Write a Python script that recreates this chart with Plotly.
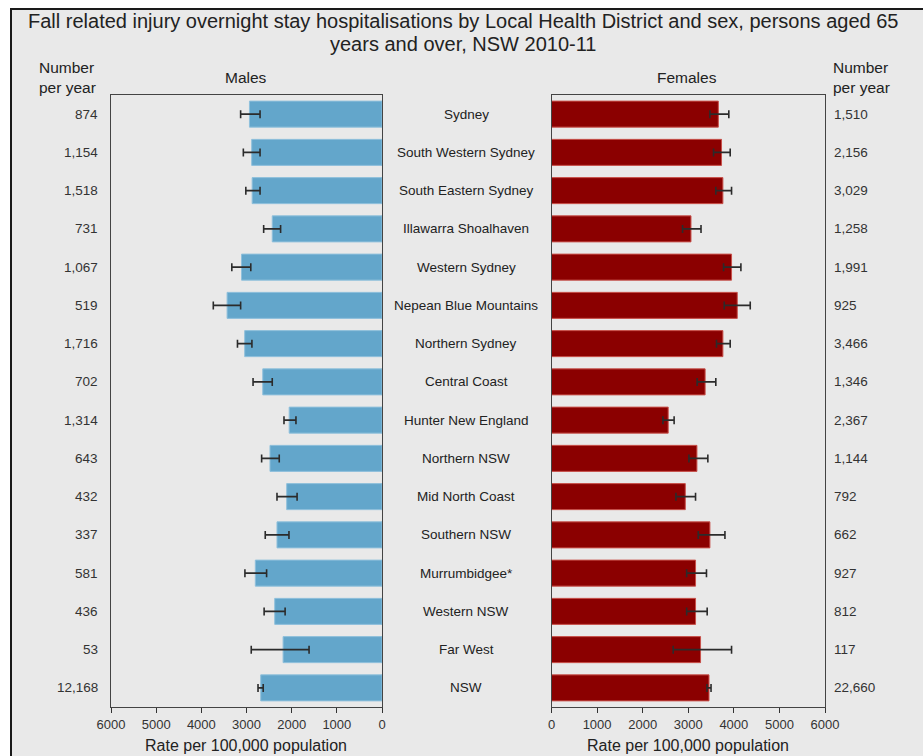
import plotly.graph_objects as go

W, H = 923, 756

districts = ["Sydney", "South Western Sydney", "South Eastern Sydney", "Illawarra Shoalhaven",
             "Western Sydney", "Nepean Blue Mountains", "Northern Sydney", "Central Coast",
             "Hunter New England", "Northern NSW", "Mid North Coast", "Southern NSW",
             "Murrumbidgee*", "Western NSW", "Far West", "NSW"]
male_number = ["874", "1,154", "1,518", "731", "1,067", "519", "1,716", "702",
               "1,314", "643", "432", "337", "581", "436", "53", "12,168"]
female_number = ["1,510", "2,156", "3,029", "1,258", "1,991", "925", "3,466", "1,346",
                 "2,367", "1,144", "792", "662", "927", "812", "117", "22,660"]
male_rate = [2935, 2885, 2875, 2430, 3110, 3430, 3040, 2640, 2055, 2480, 2110, 2325, 2805, 2375, 2190, 2685]
male_lo = [2700, 2700, 2700, 2245, 2905, 3130, 2880, 2430, 1905, 2275, 1880, 2060, 2555, 2145, 1615, 2630]
male_hi = [3130, 3070, 3015, 2620, 3325, 3735, 3200, 2855, 2170, 2665, 2325, 2585, 3035, 2610, 2895, 2745]
female_rate = [3660, 3730, 3760, 3060, 3950, 4075, 3760, 3370, 2560, 3190, 2935, 3475, 3160, 3160, 3270, 3455]
female_lo = [3475, 3555, 3605, 2875, 3775, 3790, 3620, 3195, 2445, 3015, 2730, 3220, 2965, 2965, 2670, 3410]
female_hi = [3890, 3920, 3950, 3280, 4155, 4360, 3920, 3605, 2690, 3430, 3160, 3805, 3400, 3415, 3950, 3500]
x_ticks = [0, 1000, 2000, 3000, 4000, 5000, 6000]
title_lines = ["Fall related injury overnight stay hospitalisations by Local Health District and sex, persons aged 65",
               "years and over, NSW 2010-11"]

FONT = "Liberation Sans, Arial, sans-serif"
MALE_COLOR = "#63a6cb"
FEMALE_COLOR = "#8b0000"


def px(x):
    return x / W


def py(y):
    return 1 - y / H


fig = go.Figure()

fig.add_trace(go.Bar(
    y=districts, x=male_rate, orientation="h", xaxis="x", yaxis="y",
    marker=dict(color=MALE_COLOR, line=dict(color="#8fc0dc", width=1)),
    width=0.68,
    error_x=dict(type="data", symmetric=False,
                 array=[h - r for h, r in zip(male_hi, male_rate)],
                 arrayminus=[r - l for r, l in zip(male_rate, male_lo)],
                 color="#2b2b2b", thickness=1.6, width=4),
    showlegend=False, hoverinfo="x+y"))

fig.add_trace(go.Bar(
    y=districts, x=female_rate, orientation="h", xaxis="x2", yaxis="y2",
    marker=dict(color=FEMALE_COLOR, line=dict(color="#c8504a", width=1)),
    width=0.68,
    error_x=dict(type="data", symmetric=False,
                 array=[h - r for h, r in zip(female_hi, female_rate)],
                 arrayminus=[r - l for r, l in zip(female_rate, female_lo)],
                 color="#2b2b2b", thickness=1.6, width=4),
    showlegend=False, hoverinfo="x+y"))

axis_common = dict(
    tickvals=x_ticks, ticktext=[str(t) for t in x_ticks],
    ticks="outside", ticklen=5, tickwidth=1, tickcolor="#333",
    showline=True, linecolor="#444", linewidth=1, mirror=True,
    showgrid=False, zeroline=False, automargin=False,
    tickfont=dict(family=FONT, size=13, color="#333"),
    fixedrange=True,
)
ydom = [py(707), py(95)]
yaxis_common = dict(
    domain=ydom, range=[15.5, -0.5], showticklabels=False, ticks="",
    showline=True, linecolor="#444", linewidth=1, mirror=True,
    showgrid=False, zeroline=False, fixedrange=True, automargin=False,
    categoryorder="array", categoryarray=districts,
)

fig.update_layout(
    width=W, height=H,
    margin=dict(l=0, r=0, t=0, b=0, autoexpand=False),
    paper_bgcolor="white", plot_bgcolor="white",
    font=dict(family=FONT, color="#333"),
    xaxis=dict(domain=[px(111), px(382)], range=[6000, 0], anchor="y", **axis_common),
    xaxis2=dict(domain=[px(551.5), px(825)], range=[0, 6000], anchor="y2", **axis_common),
    yaxis=dict(anchor="x", **yaxis_common),
    yaxis2=dict(anchor="x2", **yaxis_common),
)

# grey framed background
fig.add_shape(type="rect", xref="paper", yref="paper",
              x0=px(11), x1=1.02, y0=-0.02, y1=py(9),
              fillcolor="#e9e9e9", line=dict(color="#1a1a1a", width=2), layer="below")

ann = []
for line, cy in zip(title_lines, (21, 44)):
    ann.append(dict(text=line, x=px(463), y=py(cy), xref="paper", yref="paper",
                    xanchor="center", yanchor="middle", showarrow=False,
                    font=dict(family=FONT, size=20, color="#222")))
ann.append(dict(text="Number<br>per year", x=px(37), y=py(57), xref="paper", yref="paper",
                xanchor="left", yanchor="top", align="left", showarrow=False,
                font=dict(family=FONT, size=15.5, color="#222")))
ann.append(dict(text="Number<br>per year", x=px(831), y=py(57), xref="paper", yref="paper",
                xanchor="left", yanchor="top", align="left", showarrow=False,
                font=dict(family=FONT, size=15.5, color="#222")))
ann.append(dict(text="Males", x=px(246), y=py(77), xref="paper", yref="paper",
                xanchor="center", yanchor="middle", showarrow=False,
                font=dict(family=FONT, size=15.5, color="#222")))
ann.append(dict(text="Females", x=px(687), y=py(77), xref="paper", yref="paper",
                xanchor="center", yanchor="middle", showarrow=False,
                font=dict(family=FONT, size=15.5, color="#222")))
for cx in (246, 688):
    ann.append(dict(text="Rate per 100,000 population", x=px(cx), y=py(745), xref="paper", yref="paper",
                    xanchor="center", yanchor="middle", showarrow=False,
                    font=dict(family=FONT, size=16, color="#222")))

for d, mn, fn in zip(districts, male_number, female_number):
    ann.append(dict(text=d, x=px(466), y=d, xref="paper", yref="y",
                    xanchor="center", yanchor="middle", showarrow=False,
                    font=dict(family=FONT, size=13.5, color="#222")))
    ann.append(dict(text=mn, x=px(100), y=d, xref="paper", yref="y",
                    xanchor="right", yanchor="middle", showarrow=False,
                    font=dict(family=FONT, size=13.5, color="#333")))
    ann.append(dict(text=fn, x=px(832), y=d, xref="paper", yref="y",
                    xanchor="left", yanchor="middle", showarrow=False,
                    font=dict(family=FONT, size=13.5, color="#333")))

fig.update_layout(annotations=ann)

fig.write_html("out.html")
